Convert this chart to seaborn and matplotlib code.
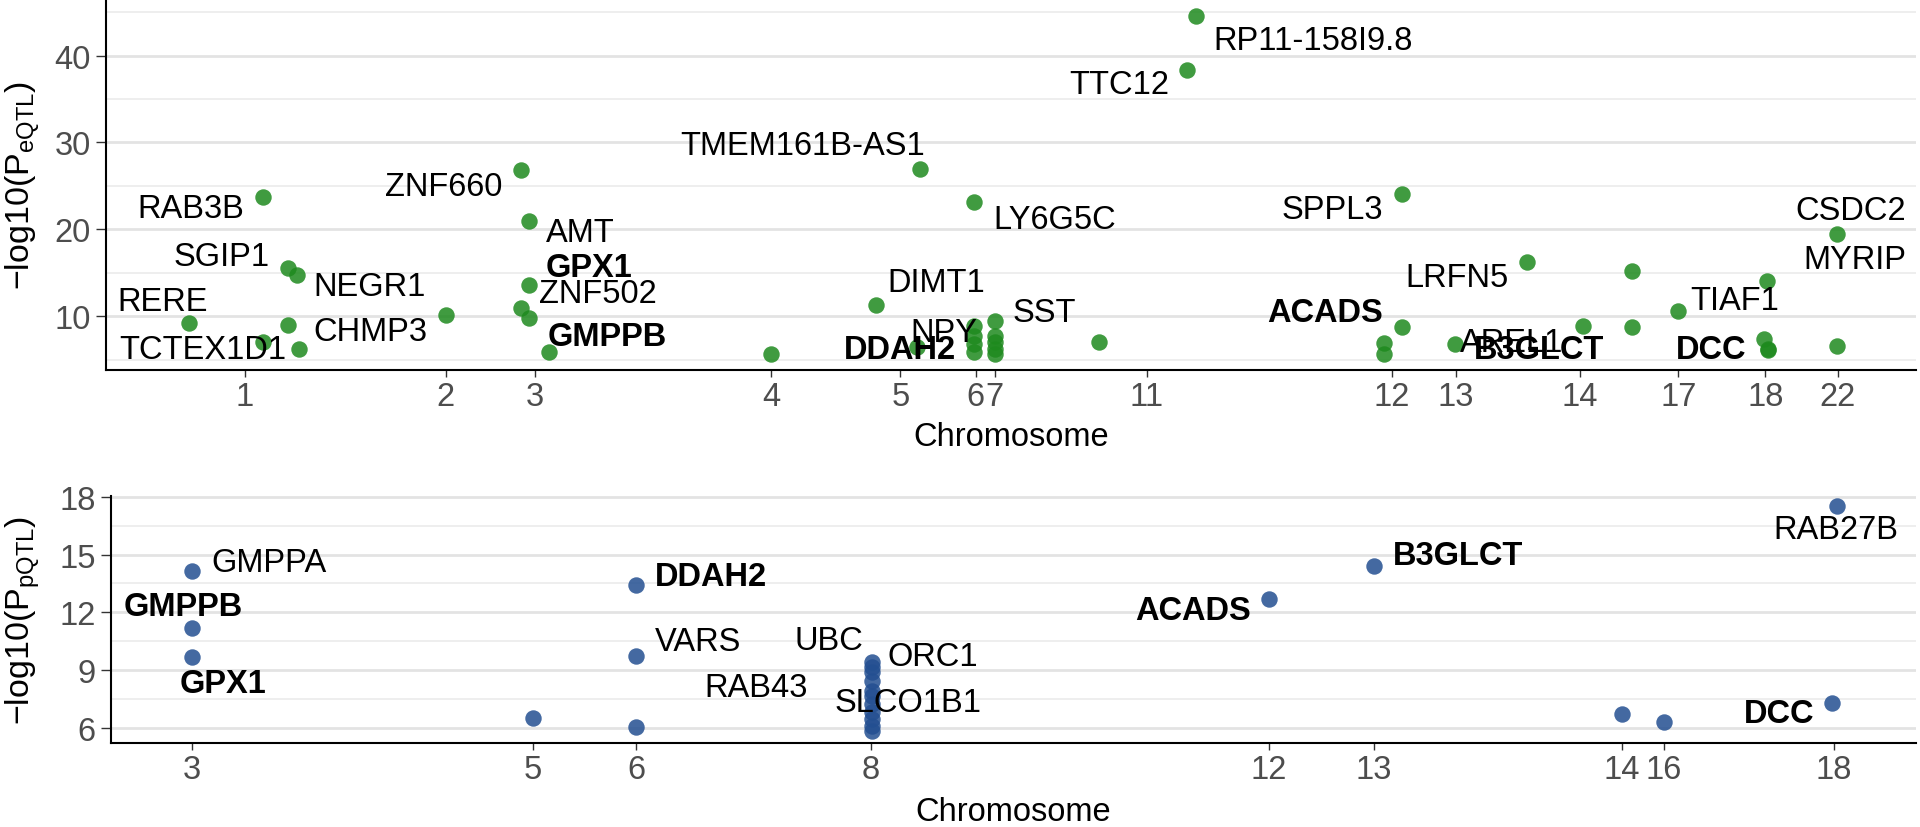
import matplotlib
matplotlib.use("Agg")
import matplotlib.pyplot as plt
import pandas as pd
import seaborn as sns
from matplotlib.ticker import MultipleLocator

# ---- eQTL panel (top) ----
# position along the genome (arbitrary index 0-100) and -log10(P)
eqtl_pos = [4.6, 8.68, 8.68, 10.06, 10.55, 10.06, 10.67, 18.76,
            22.94, 23.38, 23.38, 22.94, 23.38, 24.49, 36.76, 42.53,
            44.83, 44.97, 47.98, 47.98, 47.98, 47.98, 47.98,
            49.14, 49.14, 49.14, 49.14, 49.14, 54.87, 59.73, 60.22,
            70.59, 70.59, 71.59, 71.59, 74.52, 78.5, 81.59, 84.3, 84.3,
            86.87, 91.79, 91.62, 91.82, 91.82, 95.66, 95.66]
eqtl_logp = [9.23, 23.68, 7.08, 15.59, 14.75, 9.03, 6.28, 10.15,
             26.78, 20.95, 13.63, 10.95, 9.77, 5.93, 5.67, 11.33,
             6.44, 26.9, 23.1, 8.93, 7.77, 6.82, 5.86,
             9.5, 7.77, 7.0, 6.24, 5.67, 7.01, 38.31, 44.55,
             6.9, 5.67, 24.06, 8.8, 6.82, 16.28, 8.85, 15.17, 8.8,
             10.57, 14.02, 7.39, 6.13, 6.2, 19.42, 6.62]
eqtl_tick_pos = [7.68, 18.78, 23.71, 36.76, 43.89, 48.04, 49.09, 57.49,
                 71.03, 74.57, 81.45, 86.87, 91.68, 95.67]
eqtl_tick_lab = ["1", "2", "3", "4", "5", "6", "7", "11",
                 "12", "13", "14", "17", "18", "22"]
eqtl_genes = ["RERE", "TCTEX1D1", "RAB3B", "SGIP1", "NEGR1", "CHMP3",
              "ZNF660", "AMT", "GPX1", "ZNF502", "GMPPB",
              "RP11-158I9.8", "TTC12", "TMEM161B-AS1", "LY6G5C", "DIMT1",
              "SST", "NPY", "DDAH2", "ACADS", "SPPL3", "LRFN5", "TIAF1",
              "DCC", "CSDC2", "MYRIP", "B3GLCT", "AREL1"]
eqtl_bold = {"GPX1", "GMPPB", "DDAH2", "ACADS", "DCC", "B3GLCT"}
# label placement (repelled text positions)
eqtl_label_xy = [(3.15, 11.76), (5.36, 6.24), (4.7, 22.45), (6.36, 16.93),
                 (14.54, 13.48), (14.59, 8.31), (18.66, 24.9), (26.2, 19.69),
                 (26.7, 15.6), (27.17, 12.6), (27.7, 7.74),
                 (66.7, 41.68), (55.98, 36.7), (38.47, 29.6), (52.44, 21.18),
                 (45.86, 13.9), (51.85, 10.46), (46.27, 8.16), (43.89, 6.24),
                 (67.36, 10.46), (67.75, 22.33), (74.63, 14.48), (89.99, 11.79),
                 (88.7, 6.24), (96.4, 22.14), (96.6, 16.59), (79.16, 6.24),
                 (77.65, 7.01)]

# ---- pQTL panel (bottom) ----
pqtl_pos = [4.49, 4.49, 4.49, 23.36, 29.09, 29.09, 29.09,
            42.14, 42.14, 42.14, 42.14, 42.14, 42.14, 42.14, 42.14,
            42.14, 42.14, 42.14,
            64.17, 69.97, 83.7, 86.05, 95.33, 95.6]
pqtl_logp = [14.16, 11.17, 9.66, 6.49, 13.42, 9.74, 6.05,
             9.4, 9.14, 8.88, 8.4, 7.92, 7.66, 7.23, 6.8, 6.45, 6.1, 5.84,
             12.69, 14.42, 6.71, 6.28, 7.27, 17.54]
pqtl_tick_pos = [4.49, 23.36, 29.09, 42.1, 64.16, 69.97, 83.71, 86.04, 95.46]
pqtl_tick_lab = ["3", "5", "6", "8", "12", "13", "14", "16", "18"]
pqtl_genes = ["GMPPA", "GMPPB", "GPX1", "DDAH2", "VARS", "UBC", "ORC1",
              "RAB43", "SLCO1B1", "ACADS", "B3GLCT", "RAB27B", "DCC"]
pqtl_bold = {"GMPPB", "GPX1", "DDAH2", "ACADS", "B3GLCT", "DCC"}
pqtl_label_xy = [(8.75, 14.6), (4.03, 12.29), (6.19, 8.32), (33.21, 13.87),
                 (32.52, 10.49), (39.76, 10.52), (45.54, 9.71), (35.76, 8.1),
                 (44.14, 7.32), (59.97, 12.08), (74.63, 14.94), (95.57, 16.3),
                 (92.41, 6.76)]

FS = 23.5
TICK_COL = "#4D4D4D"

sns.set_style("white")
plt.rcParams["font.family"] = ["Liberation Sans", "DejaVu Sans"]
plt.rcParams["mathtext.fontset"] = "custom"
plt.rcParams["mathtext.rm"] = "Liberation Sans"
plt.rcParams["mathtext.it"] = "Liberation Sans:italic"


def style_axis(ax, ylim, major, minor, ticks, labels, ylabel, ylab_x, xlab_y):
    ax.set_xlim(0, 100)
    ax.set_ylim(*ylim)
    ax.yaxis.set_major_locator(MultipleLocator(major))
    ax.yaxis.set_minor_locator(MultipleLocator(minor))
    ax.set_xticks(ticks)
    ax.set_xticklabels(labels)
    ax.grid(False)
    ax.grid(axis="y", which="major", color="#E3E3E3", linewidth=2.0)
    ax.grid(axis="y", which="minor", color="#EAEAEA", linewidth=1.1)
    ax.set_axisbelow(True)
    for s in ["top", "right"]:
        ax.spines[s].set_visible(False)
    for s in ["left", "bottom"]:
        ax.spines[s].set_color("black")
        ax.spines[s].set_linewidth(1.5)
    ax.tick_params(axis="both", which="major", width=1, color="#333333",
                   labelsize=FS, labelcolor=TICK_COL, left=True, bottom=True)
    ax.tick_params(axis="x", which="major", length=5, pad=3)
    ax.tick_params(axis="y", which="major", length=7, pad=4)
    ax.tick_params(axis="y", which="minor", length=0)
    ax.set_xlabel("Chromosome", fontsize=FS, color="black")
    ax.set_ylabel(ylabel, fontsize=24.5, color="black")
    ax.xaxis.set_label_coords(0.5, xlab_y)
    ax.yaxis.set_label_coords(ylab_x, 0.5)


def add_labels(ax, genes, xy, bold):
    for g, (x, y) in zip(genes, xy):
        ax.text(x, y, g, ha="center", va="center", fontsize=FS,
                fontweight="bold" if g in bold else "normal", color="black")


fig = plt.figure(figsize=(19.2, 8.28), dpi=100)
ax1 = fig.add_axes([106 / 1920, 1 - 371 / 828, (1916 - 106) / 1920, 371 / 828])
ax2 = fig.add_axes([111 / 1920, 1 - 744 / 828, (1916 - 111) / 1920, 247 / 828])

eqtl = pd.DataFrame({"pos": eqtl_pos, "logp": eqtl_logp})
pqtl = pd.DataFrame({"pos": pqtl_pos, "logp": pqtl_logp})

sns.scatterplot(data=eqtl, x="pos", y="logp", ax=ax1, color="#1E8A1E",
                alpha=0.85, s=140, linewidth=0)
sns.scatterplot(data=pqtl, x="pos", y="logp", ax=ax2, color="#234F91",
                alpha=0.85, s=140, linewidth=0)

style_axis(ax1, (3.83, 46.5), 10, 5, eqtl_tick_pos, eqtl_tick_lab,
           r"$\mathregular{-log10(P_{eQTL})}$", -0.035, -0.137)
style_axis(ax2, (5.2, 18.05), 3, 1.5, pqtl_tick_pos, pqtl_tick_lab,
           r"$\mathregular{-log10(P_{pQTL})}$", -0.038, -0.215)

add_labels(ax1, eqtl_genes, eqtl_label_xy, eqtl_bold)
add_labels(ax2, pqtl_genes, pqtl_label_xy, pqtl_bold)

fig.savefig("out.png", dpi=100)
